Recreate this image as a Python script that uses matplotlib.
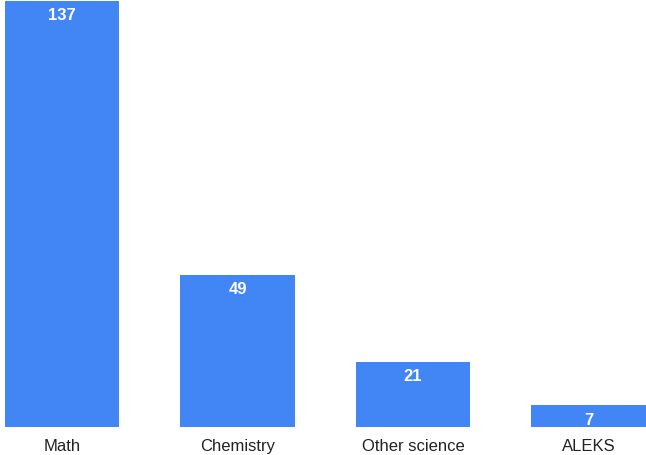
import matplotlib
matplotlib.use('Agg')
from matplotlib import pyplot as plt
import numpy as np

plt.rcParams['font.family'] = ['Liberation Sans', 'DejaVu Sans']

categorie = ['Math', 'Chemistry', 'Other science', 'ALEKS']
valori = [137, 49, 21, 7]

W, H = 646, 456
fig = plt.figure(figsize=(W / 100, H / 100), dpi=100)
# axes occupa tutta la larghezza, base delle barre a y=428 px
ax = fig.add_axes([0, (H - 428) / H, 1, 428 / H])

x = np.arange(len(categorie))
ax.bar(x, valori, width=0.65, color='#4285f4')

passo = 175.5
ax.set_xlim((0 - 62) / passo, (W - 62) / passo)
ax.set_ylim(0, 137 * 428 / 426)

for xi, v in zip(x, valori):
    ax.annotate(str(v), (xi, v), xytext=(0, -14), textcoords='offset pixels',
                ha='center', va='center', color='white', fontsize=12, fontweight='bold')

for xi, c in zip(x, categorie):
    ax.annotate(c, (xi, 0), xytext=(0, -19), textcoords='offset pixels',
                ha='center', va='center', color='#222222', fontsize=12,
                annotation_clip=False)

ax.axis('off')
fig.savefig('out.png', dpi=100, facecolor='white')
